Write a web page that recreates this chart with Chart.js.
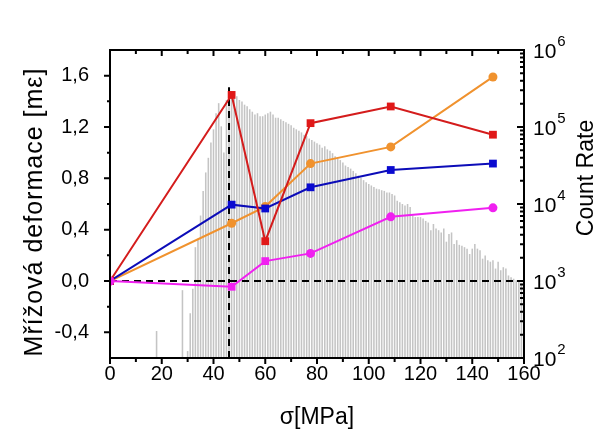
<!DOCTYPE html>
<html>
<head>
<meta charset="utf-8">
<script src="https://cdn.jsdelivr.net/npm/chart.js@4.4.1/dist/chart.umd.min.js"></script>
<style>
  html, body { margin: 0; padding: 0; background: #fff; }
</style>
</head>
<body>
<canvas id="strainchart" width="610" height="431"></canvas>
<script>
// stress levels of the strain measurements [MPa]
const stress = [0, 47, 60, 77.5, 108.5, 148];
// lattice strain series [m-epsilon]
const redStrain     = [0, 1.45, 0.31, 1.23, 1.36, 1.14];
const orangeStrain  = [0, 0.45, 0.58, 0.915, 1.045, 1.59];
const blueStrain    = [0, 0.595, 0.565, 0.73, 0.865, 0.915];
const magentaStrain = [0, -0.045, 0.155, 0.215, 0.50, 0.57];
const magentaShapes = ['circle', 'rect', 'rect', 'circle', 'circle', 'circle'];

// acoustic emission histogram (count rate vs stress)
const histStress = [18, 28, 30, 31, 32, 33, 34, 35, 36, 37, 38, 39, 40, 41, 42, 43, 44, 45, 46, 47, 48, 49,
  50, 51, 52, 53, 54, 55, 56, 57, 58, 59, 60, 61, 62, 63, 64, 65, 66, 67, 68, 69,
  70, 71, 72, 73, 74, 75, 76, 77, 78, 79, 80, 81, 82, 83, 84, 85, 86, 87, 88, 89,
  90, 91, 92, 93, 94, 95, 96, 97, 98, 99, 100, 101, 102, 103, 104, 105, 106, 107, 108, 109,
  110, 111, 112, 113, 114, 115, 116, 117, 118, 119, 120, 121, 122, 123, 124, 125, 126, 127, 128, 129,
  130, 131, 132, 133, 134, 135, 136, 137, 138, 139, 140, 141, 142, 143, 144, 145, 146, 147, 148, 149,
  150, 151, 152, 153, 154, 155, 156, 157, 158, 159];
const histCounts = [224, 760, 123, 380, 794, 2750, 3550, 7080, 14800, 25700, 39800, 63100, 93300, 151000, 204000, 102000, 46800, 224000, 316000, 288000, 275000, 251000,
  224000, 214000, 195000, 186000, 170000, 158000, 145000, 151000, 138000, 138000, 145000, 151000, 158000, 145000, 132000, 132000, 126000, 120000, 115000, 110000,
  105000, 97700, 93300, 89100, 85100, 79400, 75900, 70800, 67600, 64600, 61700, 58900, 53700, 56200, 51300, 49000, 45700, 41700, 38900, 37200,
  34700, 31600, 30200, 28800, 26900, 25100, 23400, 21900, 20400, 19100, 18200, 17400, 16600, 15800, 15500, 15100, 14800, 14100, 14100, 13500,
  12900, 11000, 10500, 10000, 9550, 10000, 9120, 7080, 6760, 6760, 6760, 6460, 6030, 5750, 4570, 5500, 4790, 4570, 4270, 4790,
  3240, 4070, 4270, 3020, 3390, 2950, 2880, 2750, 2630, 2240, 2630, 3020, 2630, 2510, 1950, 2140, 1860, 1780, 1860, 1450,
  1780, 1380, 1510, 1450, 1180, 1120, 1070, 1020, 977, 933];

// reference lines
const zeroLine = [{x: 0, y: 0}, {x: 160, y: 0}];
const markLine = [{x: 46, y: -0.6}, {x: 46, y: 1.51}];

const countExponents = [2, 3, 4, 5, 6];

const FONT = '"Liberation Sans", Arial, sans-serif';

function pts(ys) {
  return stress.map((s, i) => ({x: s, y: ys[i]}));
}

const frame = {
  id: 'frame',
  afterDraw(chart) {
    const {ctx, chartArea: a, scales} = chart;
    const x = scales.x, y = scales.y, y2 = scales.y2;
    ctx.save();
    ctx.strokeStyle = '#000';
    ctx.lineWidth = 2;
    ctx.strokeRect(a.left, a.top, a.right - a.left, a.bottom - a.top);

    ctx.beginPath();
    // x ticks: outward at bottom, inward at top
    for (let v = 0; v <= 160; v += 10) {
      const px = x.getPixelForValue(v);
      const len = v % 20 === 0 ? 6 : 4;
      ctx.moveTo(px, a.bottom); ctx.lineTo(px, a.bottom + len);
      ctx.moveTo(px, a.top); ctx.lineTo(px, a.top + len);
    }
    // left ticks
    for (let i = -2; i <= 8; i++) {
      const py = y.getPixelForValue(i * 0.2);
      const len = i % 2 === 0 ? 6 : 3;
      ctx.moveTo(a.left, py); ctx.lineTo(a.left - len, py);
    }
    // right log ticks, inward
    for (let n = 2; n <= 5; n++) {
      for (let k = 1; k <= 9; k++) {
        const py = y2.getPixelForValue(k * Math.pow(10, n));
        const len = k === 1 ? 7 : 4;
        ctx.moveTo(a.right, py); ctx.lineTo(a.right - len, py);
      }
    }
    ctx.stroke();

    // right axis labels 10^n
    ctx.fillStyle = '#000';
    ctx.textBaseline = 'middle';
    ctx.textAlign = 'left';
    countExponents.forEach(n => {
      const py = y2.getPixelForValue(Math.pow(10, n));
      ctx.font = '21px ' + FONT;
      ctx.fillText('10', a.right + 9, py + 2);
      const w = ctx.measureText('10').width;
      ctx.font = '15px ' + FONT;
      ctx.fillText(String(n), a.right + 10 + w, py - 8);
    });

    // axis titles
    ctx.textAlign = 'center';
    ctx.save();
    ctx.font = '25px ' + FONT;
    ctx.letterSpacing = '1px';
    ctx.translate(35, 212);
    ctx.rotate(-Math.PI / 2);
    ctx.fillText('Mřížová deformace [mε]', 0, 0);
    ctx.restore();

    ctx.font = '23px ' + FONT;
    ctx.save();
    ctx.translate(587, 178);
    ctx.rotate(-Math.PI / 2);
    ctx.fillText('Count Rate', 0, 0);
    ctx.restore();

    ctx.fillText('σ[MPa]', (a.left + a.right) / 2, 418);
    ctx.restore();
  }
};

const ctx = document.getElementById('strainchart');

new Chart(ctx, {
  type: 'bar',
  data: {
    datasets: [
      {
        type: 'line', label: 'magenta', data: pts(magentaStrain), order: 1,
        borderColor: '#f020f0', backgroundColor: '#f020f0', borderWidth: 2,
        pointStyle: magentaShapes, pointRadius: [4.5, 5.5, 5.5, 4.5, 4.5, 4.5], pointBorderWidth: 0,
        yAxisID: 'y'
      },
      {
        type: 'line', label: 'red', data: pts(redStrain), order: 2,
        borderColor: '#d41c1c', backgroundColor: '#e01818', borderWidth: 2,
        pointStyle: 'rect', pointRadius: 5.5, pointBorderWidth: 0, yAxisID: 'y'
      },
      {
        type: 'line', label: 'blue', data: pts(blueStrain), order: 3,
        borderColor: '#0c0cb8', backgroundColor: '#0a0ad0', borderWidth: 2,
        pointStyle: 'rect', pointRadius: 5.5, pointBorderWidth: 0, yAxisID: 'y'
      },
      {
        type: 'line', label: 'orange', data: pts(orangeStrain), order: 4,
        borderColor: '#f0922e', backgroundColor: '#f0922e', borderWidth: 2,
        pointStyle: 'circle', pointRadius: 4.5, pointBorderWidth: 0, yAxisID: 'y'
      },
      {
        type: 'line', label: 'zero', data: zeroLine, order: 5,
        borderColor: '#000', borderWidth: 2, borderDash: [7, 5], pointRadius: 0, yAxisID: 'y'
      },
      {
        type: 'line', label: 'mark', data: markLine, order: 5,
        borderColor: '#000', borderWidth: 2, borderDash: [7, 5], pointRadius: 0, yAxisID: 'y'
      },
      {
        type: 'bar', label: 'Count Rate', order: 6,
        data: histStress.map((s, i) => ({x: s, y: histCounts[i]})),
        backgroundColor: '#c4c4c4', borderWidth: 0,
        barPercentage: 0.6, categoryPercentage: 1,
        yAxisID: 'y2'
      }
    ]
  },
  options: {
    responsive: false,
    animation: false,
    devicePixelRatio: 1,
    layout: { padding: { top: 50 } },
    plugins: {
      legend: { display: false },
      tooltip: { enabled: false }
    },
    scales: {
      x: {
        type: 'linear', position: 'bottom', min: 0, max: 160, offset: false,
        grid: { display: false },
        border: { display: false },
        ticks: { stepSize: 20, autoSkip: false, maxRotation: 0, padding: -4, color: '#000',
                 font: { family: FONT, size: 20 } },
        afterFit(s) { s.height = 73; }
      },
      y: {
        type: 'linear', position: 'left', min: -0.6, max: 1.8,
        grid: { display: false },
        border: { display: false },
        ticks: {
          stepSize: 0.2, autoSkip: false, padding: 13, color: '#000',
          font: { family: FONT, size: 20 },
          callback(v) {
            const t = Math.round(v * 10);
            if (t % 4 !== 0) return '';
            return (t / 10).toFixed(1).replace('.', ',');
          }
        },
        afterFit(s) { s.width = 110; }
      },
      y2: {
        type: 'logarithmic', position: 'right', min: 100, max: 1000000,
        grid: { display: false },
        border: { display: false },
        ticks: { display: false },
        afterFit(s) { s.width = 86; }
      }
    }
  },
  plugins: [frame]
});
</script>
</body>
</html>
